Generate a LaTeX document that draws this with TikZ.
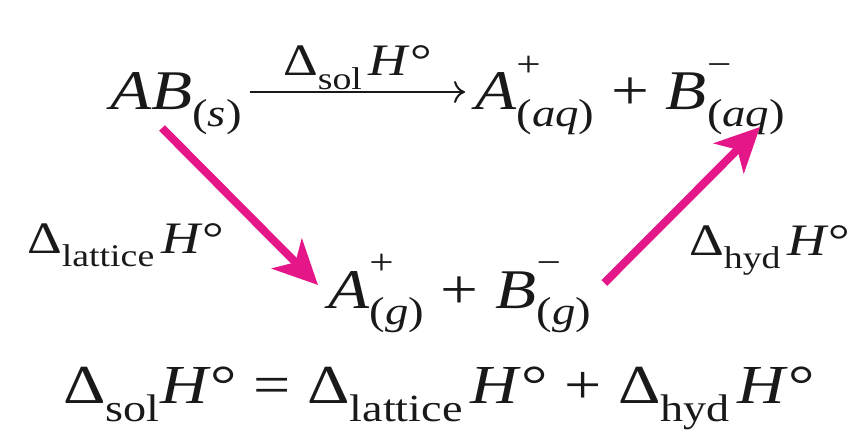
\documentclass[tikz,border=0pt]{standalone}
\usepackage{amsmath}
\usepackage{fontspec}
\setmainfont{Liberation Serif}[FakeStretch=1.2]
\usepackage{tikz}
\usetikzlibrary{positioning,arrows.meta}
\definecolor{hcPink}{RGB}{228,22,136}
\definecolor{hcInk}{RGB}{25,25,25}

% enthalpy change, phase subscript and ion with charge
\newcommand{\dH}[1]{Δ$_{\text{#1}}$\hspace{0.14em}\textit{H}°}
\newcommand{\phs}[1]{\raisebox{-0.3em}{\fontsize{39}{40}\selectfont(\textit{#1})}}
\newcommand{\ionph}[3]{\textit{#1}\makebox[0pt][l]{\raisebox{0.6em}{\fontsize{36}{36}\selectfont #2}}\phs{#3}}

\begin{document}
\begin{tikzpicture}[x=1pt, y=1pt,
    txt/.style={inner sep=0pt, anchor=base west, text=hcInk, font=\fontsize{56}{60}\selectfont},
    lbl/.style={txt, font=\fontsize{45}{50}\selectfont},
    eqn/.style={txt, font=\fontsize{55}{60}\selectfont},
    rxn/.style={-{To[length=11pt, width=22pt]}, line width=2pt, hcInk},
    hess/.style={-{Stealth[length=44pt, width=42pt, inset=12pt]}, line width=8pt, hcPink}]
  \useasboundingbox (0,0) rectangle (854,432);

  % Species
  \node[txt] (ab) at (110,322) {\textit{AB}\phs{s}};
  \node[txt] (aq) at (475,322) {\ionph{A}{+}{aq} + \ionph{B}{−}{aq}};
  \node[txt] (gas) at (328,124) {\ionph{A}{+}{g} + \ionph{B}{−}{g}};

  % Direct dissolution
  \draw[rxn] ([xshift=8pt, yshift=18pt]ab.base east) -- ([xshift=-10pt, yshift=18pt]aq.base west)
    node[lbl, midway, anchor=base, yshift=16pt] (sol) {\dH{sol}};

  % Two-step path
  \draw[hess] ([xshift=52pt, yshift=-18pt]ab.base west) -- ([xshift=-10pt, yshift=23pt]gas.base west);
  \draw[hess] ([xshift=13pt, yshift=25pt]gas.base east) -- ([xshift=285pt, yshift=-17pt]aq.base west);
  \node[lbl] (lat) at (27,179) {\dH{lattice}};
  \node[lbl] (hyd) at (689,177) {\dH{hyd}};

  % Hess's law
  \node[eqn] (sum) at (63,29) {Δ$_{\text{sol}}$\textit{H}° = \dH{lattice} + \dH{hyd}};
\end{tikzpicture}
\end{document}
